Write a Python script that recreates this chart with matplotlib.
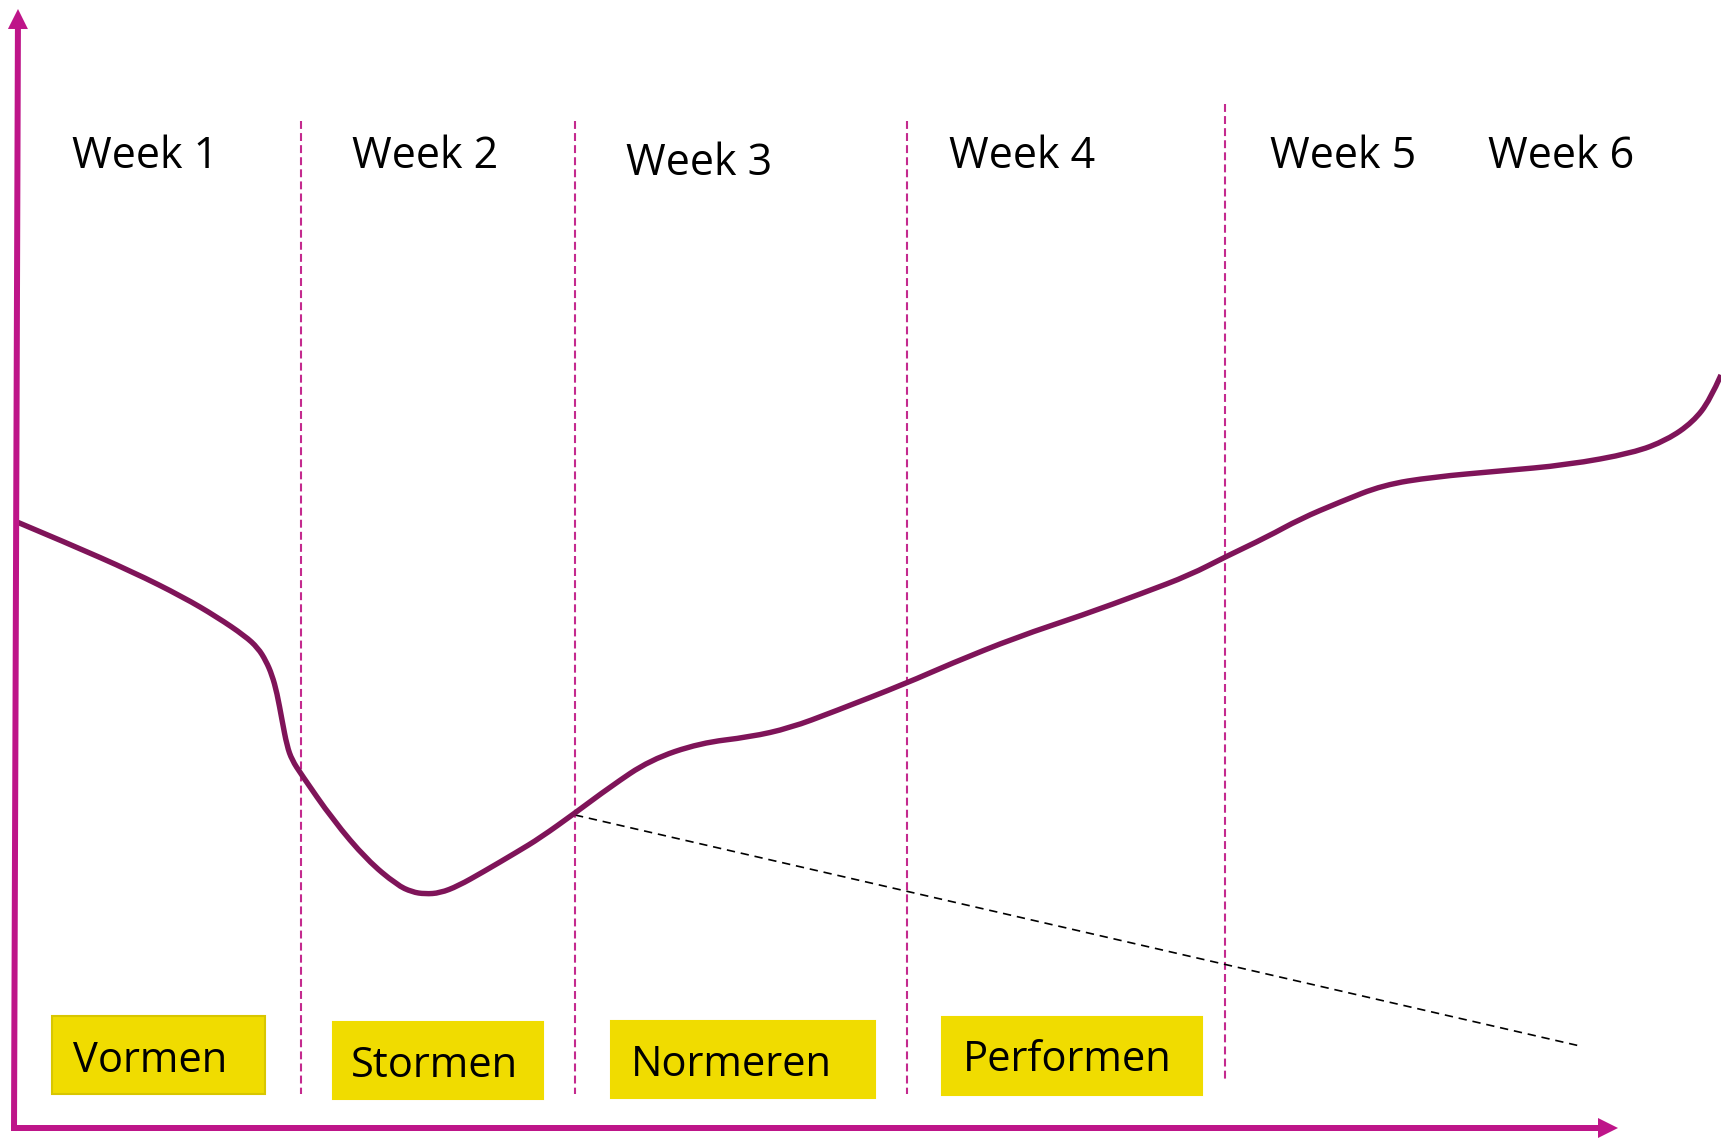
import numpy as np
import matplotlib.pyplot as plt
from matplotlib.path import Path
from matplotlib.patches import PathPatch, Rectangle, FancyArrow

# canvas coordinates follow the picture (pixels, y pointing down)
W, H = 1721, 1138

# team curve
curve_x = [17, 67, 133, 183, 217, 245, 258, 266, 272, 277, 282, 287, 292, 301, 333, 367, 397,
           412, 425, 440, 458, 483, 517, 540, 575, 610, 650, 700, 750, 790, 833, 907, 950,
           1017, 1083, 1143, 1190, 1225, 1267, 1300, 1340, 1383, 1433, 1500, 1567,
           1633, 1667, 1693, 1710, 1721]
curve_y = [522, 543, 572, 597, 617, 636, 648, 661, 675, 693, 720, 746, 760, 774, 820, 860, 885,
           892, 894, 893, 886, 872, 852, 838, 813, 787, 760, 743, 737, 728, 712, 683, 664,
           637, 615, 593, 575, 557, 537, 519, 502, 485, 477, 471, 465,
           453, 440, 422, 400, 375]

# week separators
sep_x = [301, 575, 907, 1225]
sep_top = [121, 121, 121, 104]
sep_bottom = [1094, 1094, 1094, 1080]

# dashed "without coaching" line
trend_x = [575, 1580]
trend_y = [815, 1046]

weeks = ['Week 1', 'Week 2', 'Week 3', 'Week 4', 'Week 5', 'Week 6']
week_x = [72, 352, 626, 949, 1270, 1488]
week_y = [168, 168, 175, 168, 168, 168]

phases = ['Vormen', 'Stormen', 'Normeren', 'Performen']
phase_left = [52, 333, 611, 942]
phase_right = [265, 543, 875, 1202]
phase_top = [1016, 1022, 1021, 1017]
phase_bottom = [1094, 1099, 1098, 1095]
phase_text_x = [73, 351, 631, 963]
phase_text_y = [1072, 1077, 1076, 1071]

AXIS = '#BE1589'
CURVE = '#7F1459'
SEP = '#C42A8E'
YELLOW = '#F0DC00'

fig = plt.figure(figsize=(W / 100, H / 100), dpi=100)
ax = fig.add_axes([0, 0, 1, 1])
ax.set_xlim(0, W)
ax.set_ylim(H, 0)
ax.axis('off')

for x, t, b in zip(sep_x, sep_top, sep_bottom):
    ax.plot([x, x], [t, b], color=SEP, lw=1.5, linestyle=(0, (3.8, 2.0)), zorder=1)

ax.plot(trend_x, trend_y, color='black', lw=1.2, linestyle=(0, (5, 3.5)), zorder=2)

# smooth path through the read points (quadratic segments between midpoints)
pts = np.column_stack([curve_x, curve_y]).astype(float)
verts = [pts[0]]
codes = [Path.MOVETO]
for i in range(1, len(pts) - 1):
    mid = (pts[i] + pts[i + 1]) / 2
    if i == len(pts) - 2:
        mid = pts[i + 1]
    verts += [pts[i], mid]
    codes += [Path.CURVE3, Path.CURVE3]
ax.add_patch(PathPatch(Path(verts, codes), fill=False, edgecolor=CURVE, lw=3.9,
                       capstyle='butt', joinstyle='round', zorder=3))

# axes arrows
ax.add_patch(FancyArrow(14, 1131, 4, -1122, width=6, head_width=20, head_length=20,
                        length_includes_head=True, color=AXIS, lw=0, zorder=4))
ax.add_patch(FancyArrow(11, 1128, 1607, 0, width=6, head_width=20, head_length=20,
                        length_includes_head=True, color=AXIS, lw=0, zorder=4))

for lbl, x, y in zip(weeks, week_x, week_y):
    ax.text(x, y, lbl, family='Open Sans', fontsize=31, ha='left', va='baseline',
            color='black')

for i, lbl in enumerate(phases):
    edge = '#D8C600' if i == 0 else YELLOW
    ax.add_patch(Rectangle((phase_left[i], phase_top[i]), phase_right[i] - phase_left[i],
                           phase_bottom[i] - phase_top[i], facecolor=YELLOW,
                           edgecolor=edge, lw=1.5, zorder=5))
    ax.text(phase_text_x[i], phase_text_y[i], lbl, family='Open Sans', fontsize=30,
            ha='left', va='baseline', color='black', zorder=6)

fig.savefig('out.png', dpi=100)
